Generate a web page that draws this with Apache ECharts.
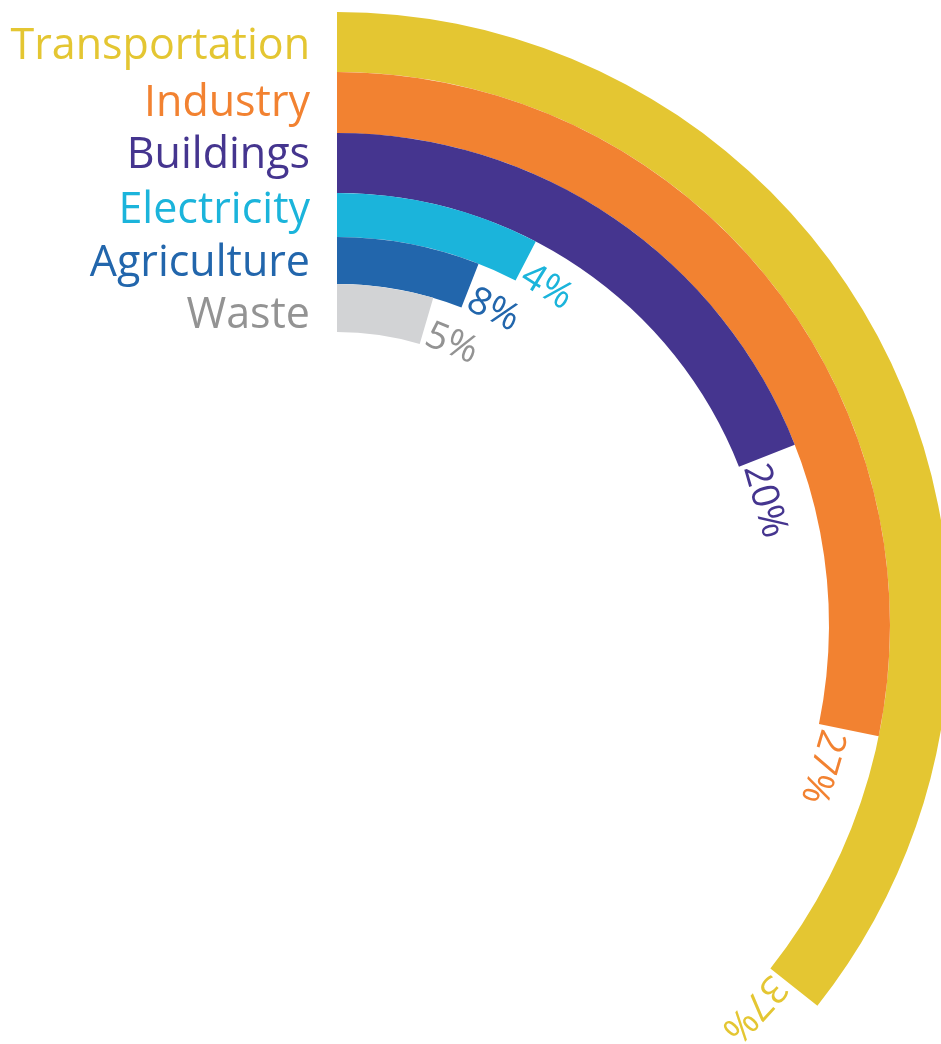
<!DOCTYPE html>
<html>
<head>
<meta charset="utf-8">
<title>Emissions by sector</title>
<script src="https://cdn.jsdelivr.net/npm/echarts@6/dist/echarts.min.js"></script>
<style>
  html, body { margin: 0; padding: 0; background: #fff; }
  #chart { width: 941px; height: 1044px; }
</style>
</head>
<body>
<div id="chart"></div>
<script>
// sectors, outermost ring first
const sectors = ['Transportation', 'Industry', 'Buildings', 'Electricity', 'Agriculture', 'Waste']
// shares printed at the end of each ring (%)
const shares = [37, 27, 20, 4, 8, 5]
// sweep of each ring in degrees, clockwise from 12 o'clock, read off the artwork
// (the artwork does not scale the arcs to the shares)
const sweepDeg = [128.4, 101.6, 68.5, 27.4, 21.4, 16.4]

const barColors = ['#E4C632', '#F28231', '#45358F', '#1BB4DB', '#2266AC', '#D2D3D5']
const textColors = ['#E4C632', '#F28231', '#45358F', '#1BB4DB', '#2266AC', '#939393']

const CENTER = [337, 625]
// ring edges from outside in (px)
const ringEdges = [613, 553, 492, 432, 388, 341, 293]
const legendMidY = [47, 104, 156, 211, 264, 316]
const FONT = '"Open Sans", "Noto Sans", sans-serif'
const LEGEND_SIZE = 43
const LABEL_SIZE = 38

const ctx = document.createElement('canvas').getContext('2d')
function textWidth(str, size) {
  ctx.font = size + 'px ' + FONT
  return ctx.measureText(str).width
}

function labelRenderer(i) {
  return function (params, api) {
    const cs = params.coordSys
    // end of the arc, through the polar scales
    const end = api.coord([api.value(0), api.value(1)])
    const theta = Math.atan2(end[0] - cs.cx, cs.cy - end[1])
    const r = cs.r0 + (cs.r - cs.r0) * 0.22
    const txt = shares[i] + '%'
    const half = textWidth(txt, LABEL_SIZE) / 2
    const phi = theta + (4 + half) / r
    return {
      type: 'text',
      x: cs.cx + r * Math.sin(phi),
      y: cs.cy - r * Math.cos(phi),
      rotation: -phi,
      style: {
        text: txt,
        fill: textColors[i],
        font: LABEL_SIZE + 'px ' + FONT,
        align: 'center',
        verticalAlign: 'middle'
      }
    }
  }
}

const polar = []
const angleAxis = []
const radiusAxis = []
const series = []

sectors.forEach((name, i) => {
  polar.push({ center: CENTER, radius: [ringEdges[i + 1], ringEdges[i]] })
  angleAxis.push({
    polarIndex: i, type: 'value', min: 0, max: 360, startAngle: 90, clockwise: true, show: false
  })
  radiusAxis.push({ polarIndex: i, type: 'category', data: [name], show: false })
  series.push({
    type: 'bar',
    name: name,
    coordinateSystem: 'polar',
    polarIndex: i,
    barCategoryGap: '0%',
    data: [sweepDeg[i]],
    itemStyle: { color: barColors[i] },
    silent: true,
    animation: false
  })
  series.push({
    type: 'custom',
    coordinateSystem: 'polar',
    polarIndex: i,
    data: [[name, sweepDeg[i]]],
    renderItem: labelRenderer(i),
    silent: true,
    animation: false,
    z: 5
  })
})

const myChart = echarts.init(document.getElementById('chart'))
myChart.setOption({
  backgroundColor: '#fff',
  animation: false,
  polar: polar,
  angleAxis: angleAxis,
  radiusAxis: radiusAxis,
  graphic: sectors.map((name, i) => ({
    type: 'text',
    x: 310,
    y: legendMidY[i],
    style: {
      text: name,
      fill: textColors[i],
      font: LEGEND_SIZE + 'px ' + FONT,
      align: 'right',
      verticalAlign: 'middle'
    }
  })),
  series: series
})
</script>
</body>
</html>
